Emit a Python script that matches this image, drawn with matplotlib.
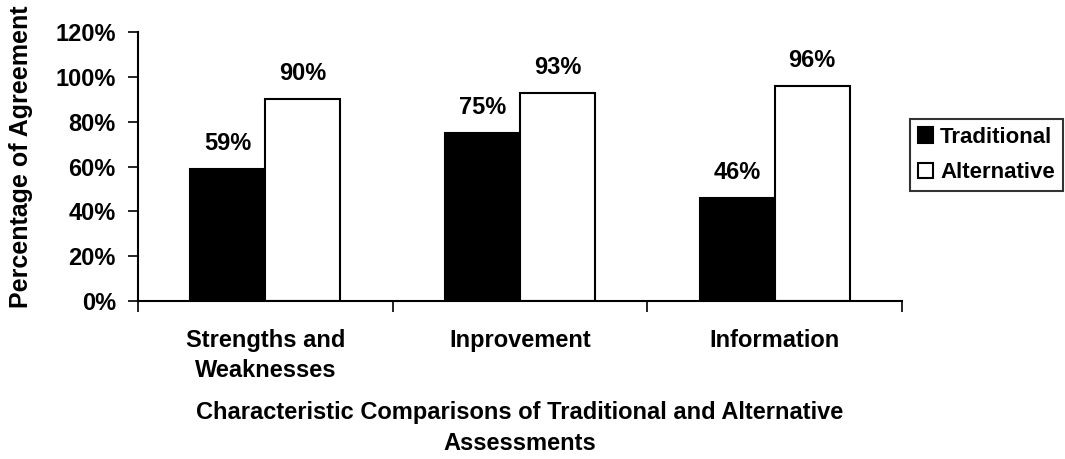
import matplotlib
matplotlib.use("Agg")
import matplotlib.pyplot as plt
import numpy as np
from matplotlib.ticker import FixedLocator, PercentFormatter

categories = ["Strengths and\nWeaknesses", "Inprovement", "Information"]
traditional = [59, 75, 46]
alternative = [90, 93, 96]
series_names = ["Traditional", "Alternative"]
yticks = [0, 20, 40, 60, 80, 100, 120]

plt.rcParams['font.family'] = ['Liberation Sans', 'DejaVu Sans']
plt.rcParams['font.weight'] = 'bold'
FS = 17

fig = plt.figure(figsize=(10.65, 4.59), dpi=100)
ax = fig.add_axes([138/1065, 1-301/459, (902-138)/1065, (301-32)/459])

x = np.arange(len(categories))
w = 0.295
b1 = ax.bar(x - w/2, traditional, w, color='black', edgecolor='black', linewidth=1.5, label=series_names[0])
b2 = ax.bar(x + w/2, alternative, w, color='white', edgecolor='black', linewidth=1.5, label=series_names[1])

for bars, vals in ((b1, traditional), (b2, alternative)):
    for r, v in zip(bars, vals):
        ax.annotate(f"{v}%", (r.get_x() + r.get_width()/2, v), xytext=(0, 10),
                    textcoords='offset points', ha='center', va='bottom', fontsize=FS,
                    fontweight='bold')

ax.set_xlim(-0.5, len(categories) - 0.5)
ax.set_ylim(0, 120)
ax.set_yticks(yticks)
ax.yaxis.set_major_formatter(PercentFormatter(decimals=0))
ax.tick_params(axis='y', direction='out', length=7, width=1.2, labelsize=FS, pad=9)

ax.set_xticks(x)
ax.set_xticklabels(categories, fontsize=FS, linespacing=1.4, fontweight='bold')
ax.tick_params(axis='x', which='major', length=0, pad=20)
ax.xaxis.set_minor_locator(FixedLocator(np.arange(-0.5, len(categories), 1.0)))
ax.tick_params(axis='x', which='minor', direction='out', length=8, width=1.2)
for t in ax.get_yticklabels():
    t.set_fontweight('bold')

for s in ('top', 'right'):
    ax.spines[s].set_visible(False)
for s in ('left', 'bottom'):
    ax.spines[s].set_linewidth(1.5)

ax.set_xlabel("Characteristic Comparisons of Traditional and Alternative\nAssessments",
              fontsize=FS, linespacing=1.4, labelpad=14, fontweight='bold')
ax.set_ylabel("Percentage of Agreement", fontsize=18, fontweight='bold')
ax.yaxis.set_label_coords(-105/764, 0.535)

leg = ax.legend(loc='upper left', bbox_to_anchor=(910/1065, 1-119/459), bbox_transform=fig.transFigure,
                prop={'size': 16, 'weight': 'bold'}, frameon=True, fancybox=False, edgecolor='black',
                handlelength=0.7, handleheight=0.7, handletextpad=0.3, borderpad=0.35,
                labelspacing=0.65, borderaxespad=0)
leg.get_frame().set_linewidth(1.5)

fig.savefig("out.png", dpi=100)
